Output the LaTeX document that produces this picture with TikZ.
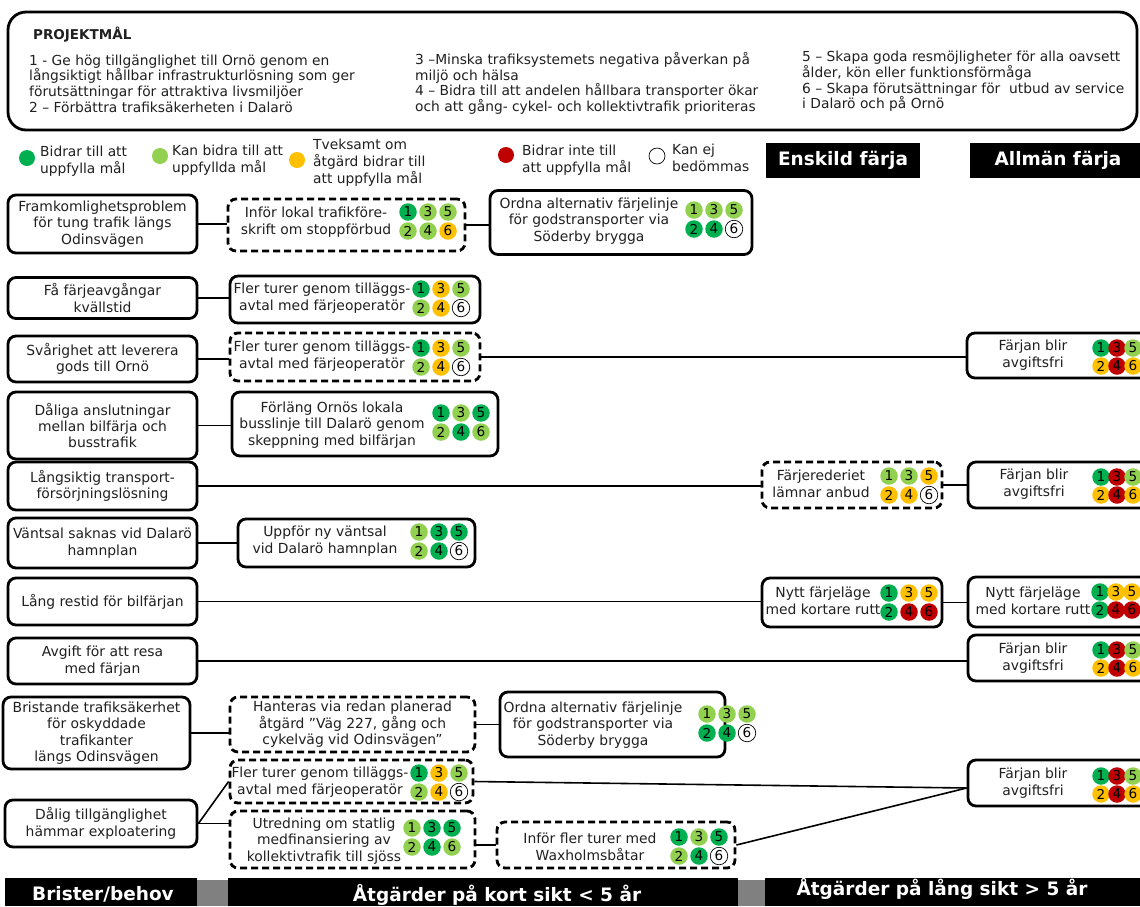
\documentclass[tikz,border=0pt]{standalone}
\usepackage{fontspec}
\setmainfont{DejaVu Sans}
\definecolor{dg}{HTML}{00B050}
\definecolor{lg}{HTML}{92D050}
\definecolor{yl}{HTML}{FFC000}
\definecolor{rd}{HTML}{C00000}
\definecolor{gr}{HTML}{808080}
\definecolor{ink}{HTML}{202020}
\tikzset{
 body/.style={font=\fontsize{13.9}{16.4}\selectfont},
 sbox/.style={draw, line width=2.8pt, rounded corners=8pt, fill=white, inner sep=0pt, align=center, body, text=ink},
 dbox/.style={sbox, dash pattern=on 7pt off 4pt},
 txt/.style={inner sep=0pt, align=center, body, text=ink},
 conn/.style={line width=1.6pt},
 goal/.style={circle, inner sep=0pt, minimum size=17.5pt, font=\fontsize{13.6}{13.6}\selectfont},
 g-dg/.style={fill=dg}, g-lg/.style={fill=lg}, g-yl/.style={fill=yl}, g-rd/.style={fill=rd},
 g-wh/.style={fill=white, draw=black, line width=0.7pt},
 leg/.style={anchor=west, align=left, inner sep=0pt, font=\fontsize{13.8}{17}\selectfont, text=ink},
 lgc/.style={circle, inner sep=0pt, minimum size=16pt},
 bar/.style={fill=black, draw=none, inner sep=0pt},
 bartxt/.style={text=white, inner sep=0pt, font=\bfseries\fontsize{18.5}{20}\selectfont},
 grey/.style={fill=gr, draw=none, inner sep=0pt},
}
\newcommand\goals[9]{%
\node[goal,g-#4] (#1-1) at (#2,#3) {1};
\node[goal,g-#5] (#1-3) at (#2+20,#3) {3};
\node[goal,g-#6] (#1-5) at (#2+40,#3) {5};
\node[goal,g-#7] (#1-2) at (#2,#3+19) {2};
\node[goal,g-#8] (#1-4) at (#2+20,#3+19) {4};
\node[goal,g-#9] (#1-6) at (#2+40,#3+19) {6};}
\newcommand\goalsR[9]{%
\node[goal,g-#4] (#1-1) at (#2,#3) {1};
\node[goal,g-#5] (#1-3) at (#2+16,#3) {3};
\node[goal,g-#6] (#1-5) at (#2+32,#3) {5};
\node[goal,g-#7] (#1-2) at (#2,#3+18) {2};
\node[goal,g-#8] (#1-4) at (#2+16,#3+18) {4};
\node[goal,g-#9] (#1-6) at (#2+32,#3+18) {6};}
\begin{document}
\begin{tikzpicture}[x=1pt,y=-1pt]
\useasboundingbox (0,0) rectangle (1140,906);
\clip (0,0) rectangle (1140,906);
\fill[white] (0,0) rectangle (1140,906);
% ---- project goals
\node[draw, line width=2.8pt, rounded corners=18pt, minimum width=1129pt, minimum height=118pt, inner sep=0pt] (pm) at (572.5,71) {};
\node[anchor=west, inner sep=0pt, font=\bfseries\fontsize{13.5}{15}\selectfont, text=ink] (pmt) at (33,35) {PROJEKTMÅL};
\node[anchor=west, align=left, inner sep=0pt, font=\fontsize{13.8}{15.6}\selectfont, text=ink] (pm1) at (29,83.5) {1 - Ge hög tillgänglighet till Ornö genom en\\långsiktigt hållbar infrastrukturlösning som ger\\förutsättningar för attraktiva livsmiljöer\\2 – Förbättra trafiksäkerheten i Dalarö};
\node[anchor=west, align=left, inner sep=0pt, font=\fontsize{13.8}{15.6}\selectfont, text=ink] (pm2) at (415,83.5) {3 –Minska trafiksystemets negativa påverkan på\\miljö och hälsa\\4 – Bidra till att andelen hållbara transporter ökar\\och att gång- cykel- och kollektivtrafik prioriteras};
\node[anchor=west, align=left, inner sep=0pt, font=\fontsize{13.8}{15.6}\selectfont, text=ink] (pm3) at (802,81.5) {5 – Skapa goda resmöjligheter för alla oavsett\\ålder, kön eller funktionsförmåga\\6 – Skapa förutsättningar för\ \ utbud av service\\i Dalarö och på Ornö};
% ---- legend
\node[lgc, fill=dg] (l1) at (27,158) {};
\node[leg] (l1t) at (40,161) {Bidrar till att\\uppfylla mål};
\node[lgc, fill=lg] (l2) at (160,156) {};
\node[leg] (l2t) at (172,160) {Kan bidra till att\\uppfyllda mål};
\node[lgc, fill=yl] (l3) at (297,160) {};
\node[leg] (l3t) at (313,163) {Tveksamt om\\åtgärd bidrar till\\att uppfylla mål};
\node[lgc, fill=rd] (l4) at (506,155) {};
\node[leg] (l4t) at (522,160) {Bidrar inte till\\att uppfylla mål};
\node[lgc, fill=white, draw=black, line width=0.7pt] (l5) at (657,156) {};
\node[leg] (l5t) at (672,158) {Kan ej\\bedömmas};
\node[bar, minimum width=154pt, minimum height=35pt] (hE) at (843,160.5) {};
\node[bartxt] (hEt) at (843,160.5) {Enskild färja};
\node[bar, minimum width=176pt, minimum height=35pt] (hA) at (1058,160.5) {};
\node[bartxt] (hAt) at (1058,160.5) {Allmän färja};
% ---- row 1
\node[sbox, minimum width=189pt, minimum height=58pt] (B1) at (102.5,224) {Framkomlighetsproblem\\för tung trafik längs\\Odinsvägen};
\node[dbox, minimum width=237pt, minimum height=52pt] (A1) at (346.5,225) {};
\node[txt] (A1t) at (316,222) {Inför lokal trafikföre-\\skrift om stoppförbud};
\node[sbox, minimum width=262pt, minimum height=64pt] (C1) at (621,222.5) {};
\node[txt] (C1t) at (589,221) {Ordna alternativ färjelinje\\för godstransporter via\\Söderby brygga};
\draw[conn] (B1.east) -- (B1.east -| A1.west);
\draw[conn] (A1.east) -- (A1.east -| C1.west);
\goals{A1g}{408}{212}{dg}{lg}{lg}{lg}{lg}{yl}
\goals{C1g}{694}{210}{lg}{lg}{lg}{dg}{dg}{wh}
% ---- row 2
\node[sbox, minimum width=189pt, minimum height=41pt] (B2) at (102.5,298) {Få färjeavgångar\\kvällstid};
\node[sbox, minimum width=250pt, minimum height=47pt] (A2) at (355,299.5) {};
\node[txt] (A2t) at (322,298) {Fler turer genom tilläggs-\\avtal med färjeoperatör};
\draw[conn] (B2.east) -- (B2.east -| A2.west);
\goals{A2g}{421}{289}{dg}{yl}{lg}{lg}{yl}{wh}
% ---- row 3
\node[sbox, minimum width=189pt, minimum height=46pt] (B3) at (102.5,359) {Svårighet att leverera\\gods till Ornö};
\node[dbox, minimum width=250pt, minimum height=48pt] (A3) at (355,357) {};
\node[txt] (A3t) at (322,356) {Fler turer genom tilläggs-\\avtal med färjeoperatör};
\node[sbox, minimum width=182pt, minimum height=45pt] (R3) at (1058,355.5) {};
\node[txt] (R3t) at (1033,355) {Färjan blir\\avgiftsfri};
\draw[conn] (B3.east) -- (B3.east -| A3.west);
\draw[conn] (A3.east) -- (A3.east -| R3.west);
\goals{A3g}{421}{348}{dg}{yl}{lg}{lg}{yl}{wh}
\goalsR{R3g}{1101}{348}{dg}{rd}{lg}{yl}{rd}{yl}
% ---- row 4
\node[sbox, minimum width=189pt, minimum height=67pt] (B4) at (102.5,425.5) {Dåliga anslutningar\\mellan bilfärja och\\busstrafik};
\node[sbox, minimum width=266pt, minimum height=64pt] (A4) at (365,424) {};
\node[txt] (A4t) at (332,425) {Förläng Ornös lokala\\busslinje till Dalarö genom\\skeppning med bilfärjan};
\draw[conn] (B4.east) -- (B4.east -| A4.west);
\goals{A4g}{441}{413}{dg}{lg}{dg}{lg}{dg}{lg}
% ---- row 5
\node[sbox, minimum width=189pt, minimum height=48pt] (B5) at (102.5,486) {Långsiktig transport-\\försörjningslösning};
\node[dbox, minimum width=180pt, minimum height=46pt] (F5) at (852,485) {};
\node[txt] (F5t) at (821,484) {Färjerederiet\\lämnar anbud};
\node[sbox, minimum width=182pt, minimum height=46pt] (R5) at (1059,485) {};
\node[txt] (R5t) at (1034,484) {Färjan blir\\avgiftsfri};
\draw[conn] (B5.east) -- (B5.east -| F5.west);
\draw[conn] (F5.east) -- (R5.west);
\goals{F5g}{889}{476}{lg}{lg}{yl}{yl}{yl}{wh}
\goalsR{R5g}{1101}{477}{dg}{rd}{lg}{yl}{rd}{yl}
% ---- row 6
\node[sbox, minimum width=189pt, minimum height=50pt] (B6) at (102.5,543) {Väntsal saknas vid Dalarö\\hamnplan};
\node[sbox, minimum width=237pt, minimum height=48pt] (A6) at (356.5,543) {};
\node[txt] (A6t) at (325,541) {Uppför ny väntsal\\vid Dalarö hamnplan};
\draw[conn] (B6.east) -- (B6.east -| A6.west);
\goals{A6g}{419}{532}{lg}{dg}{dg}{lg}{dg}{wh}
% ---- row 7
\node[sbox, minimum width=189pt, minimum height=47pt] (B7) at (102.5,601.5) {Lång restid för bilfärjan};
\node[sbox, minimum width=180pt, minimum height=49pt] (N7) at (852,602.5) {};
\node[txt] (N7t) at (823,601) {Nytt färjeläge\\med kortare rutt};
\node[sbox, minimum width=182pt, minimum height=50pt] (R7) at (1059,602) {};
\node[txt] (R7t) at (1033,601) {Nytt färjeläge\\med kortare rutt};
\draw[conn] (B7.east) -- (B7.east -| N7.west);
\draw[conn] (N7.east) -- (N7.east -| R7.west);
\goals{N7g}{889}{593}{dg}{yl}{yl}{dg}{rd}{rd}
\goalsR{R7g}{1100}{592}{dg}{yl}{yl}{dg}{rd}{rd}
% ---- row 8
\node[sbox, minimum width=189pt, minimum height=46pt] (B8) at (102.5,661) {Avgift för att resa\\med färjan};
\node[sbox, minimum width=182pt, minimum height=46pt] (R8) at (1059,658) {};
\node[txt] (R8t) at (1033,658) {Färjan blir\\avgiftsfri};
\draw[conn] (B8.east) -- (B8.east -| R8.west);
\goalsR{R8g}{1101}{650}{dg}{rd}{lg}{yl}{rd}{yl}
% ---- row 9
\node[sbox, minimum width=187pt, minimum height=72pt] (B9) at (96.5,733) {Bristande trafiksäkerhet\\för oskyddade\\trafikanter\\längs Odinsvägen};
\node[dbox, minimum width=245pt, minimum height=55pt] (H9) at (352.5,724.5) {Hanteras via redan planerad\\åtgärd ”Väg 227, gång och\\cykelväg vid Odinsvägen”};
\node[sbox, minimum width=225pt, minimum height=65pt] (O9) at (612.5,724.5) {};
\node[txt] (O9t) at (593,725) {Ordna alternativ färjelinje\\för godstransporter via\\Söderby brygga};
\draw[conn] (B9.east) -- (B9.east -| H9.west);
\draw[conn] (H9.east) -- (O9.west);
\goals{O9g}{707}{714}{lg}{lg}{lg}{dg}{dg}{wh}
% ---- row 10
\node[dbox, minimum width=243pt, minimum height=43pt] (U10) at (351.5,781.5) {};
\node[txt] (U10t) at (320,782) {Fler turer genom tilläggs-\\avtal med färjeoperatör};
\node[dbox, minimum width=245pt, minimum height=57pt] (L10) at (352.5,839.5) {};
\node[txt] (L10t) at (324,841) {Utredning om statlig\\medfinansiering av\\kollektivtrafik till sjöss};
\node[sbox, minimum width=192pt, minimum height=47pt] (D10) at (101,823.5) {Dålig tillgänglighet\\hämmar exploatering};
\node[dbox, minimum width=238pt, minimum height=46pt] (W10) at (616,845) {};
\node[txt] (W10t) at (590,847) {Inför fler turer med\\Waxholmsbåtar};
\node[sbox, minimum width=182pt, minimum height=46pt] (R10) at (1059,783) {};
\node[txt] (R10t) at (1033,783) {Färjan blir\\avgiftsfri};
\draw[conn] (D10.east) -- (D10.east -| L10.west);
\draw[conn] (D10.east) -- (U10.west);
\draw[conn] (U10.east) -- ([yshift=-5pt]R10.west);
\draw[conn] (W10.east) -- ([yshift=-5pt]R10.west);
\draw[conn] (W10.west -| L10.east) -- (W10.west);
\goals{U10g}{419}{773}{dg}{yl}{lg}{lg}{yl}{wh}
\goals{L10g}{412}{828}{lg}{dg}{dg}{lg}{dg}{lg}
\goals{W10g}{679}{837}{dg}{lg}{dg}{lg}{dg}{wh}
\goalsR{R10g}{1101}{776}{dg}{rd}{lg}{yl}{rd}{yl}
% ---- bottom bar
\node[bar, minimum width=192pt, minimum height=28pt, anchor=north west] (bb1) at (5,878) {};
\node[bartxt] (bb1t) at (103,894) {Brister/behov};
\node[grey, minimum width=31pt, minimum height=26pt, anchor=north west] (bg1) at (197,880) {};
\node[bar, minimum width=510pt, minimum height=28pt, anchor=north west] (bb2) at (228,878) {};
\node[bartxt] (bb2t) at (497,895) {Åtgärder på kort sikt < 5 år};
\node[grey, minimum width=27pt, minimum height=26pt, anchor=north west] (bg2) at (738,880) {};
\node[bar, minimum width=375pt, minimum height=28pt, anchor=north west] (bb3) at (765,878) {};
\node[bartxt] (bb3t) at (942,889) {Åtgärder på lång sikt > 5 år};
\end{tikzpicture}
\end{document}
